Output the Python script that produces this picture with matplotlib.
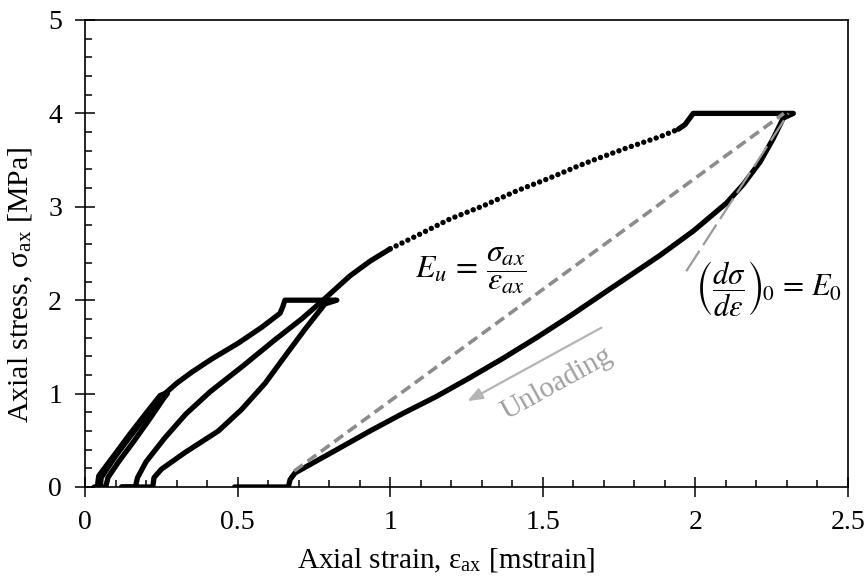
import matplotlib
matplotlib.use("Agg")
import matplotlib.pyplot as plt
from matplotlib.ticker import MultipleLocator

# cycle 1: loading to 1 MPa, unloading, recovery at zero stress
cycle1_strain = [0.030, 0.040, 0.045, 0.100, 0.150, 0.200, 0.246, 0.262, 0.270,
                 0.258, 0.210, 0.160, 0.110, 0.075, 0.068, 0.050]
cycle1_stress = [0.00, 0.00, 0.12, 0.36, 0.58, 0.79, 0.98, 1.00, 1.00,
                 0.95, 0.72, 0.49, 0.27, 0.10, 0.00, 0.00]

# cycle 2: loading to 2 MPa, hold, unloading, recovery
cycle2_strain = [0.050, 0.053, 0.100, 0.150, 0.200, 0.250, 0.262, 0.300, 0.350, 0.415,
                 0.502, 0.579, 0.639, 0.648, 0.655, 0.740, 0.825,
                 0.786, 0.721, 0.655, 0.590, 0.513, 0.437, 0.328, 0.250, 0.226, 0.222, 0.120]
cycle2_stress = [0.00, 0.10, 0.33, 0.55, 0.76, 0.97, 1.00, 1.11, 1.23, 1.37,
                 1.54, 1.71, 1.86, 1.93, 2.00, 2.00, 2.00,
                 1.96, 1.69, 1.40, 1.11, 0.83, 0.60, 0.37, 0.19, 0.10, 0.00, 0.00]

# cycle 3: reloading (dense part)
cycle3_strain = [0.120, 0.165, 0.172, 0.200, 0.260, 0.330, 0.410, 0.519, 0.620, 0.710, 0.780,
                 0.868, 0.935, 1.000]
cycle3_stress = [0.00, 0.00, 0.10, 0.27, 0.52, 0.78, 1.02, 1.30, 1.57, 1.80, 2.00,
                 2.26, 2.42, 2.55]

# cycle 3: reloading (sparse points)
sparse_strain = [1.000, 1.087, 1.196, 1.305, 1.414, 1.524, 1.611, 1.666, 1.775, 1.884, 1.944]
sparse_stress = [2.55, 2.69, 2.87, 3.01, 3.17, 3.31, 3.43, 3.50, 3.63, 3.75, 3.83]

# hold at 4 MPa, final unloading, recovery
final_strain = [1.944, 1.966, 1.993, 2.100, 2.200, 2.321,
                2.288, 2.255, 2.212, 2.157, 2.102, 1.993, 1.884, 1.775, 1.720, 1.589,
                1.480, 1.371, 1.261, 1.152, 1.043, 0.934, 0.825, 0.737, 0.688, 0.672,
                0.666, 0.490]
final_stress = [3.83, 3.88, 4.00, 4.00, 4.00, 4.00,
                3.95, 3.73, 3.48, 3.24, 3.04, 2.74, 2.48, 2.24, 2.12, 1.83,
                1.60, 1.38, 1.17, 0.97, 0.79, 0.60, 0.40, 0.24, 0.15, 0.08,
                0.00, 0.00]

# secant (unloading) modulus and initial tangent
secant_strain = [0.685, 2.290]
secant_stress = [0.17, 4.00]
tangent_strain = [1.970, 2.305]
tangent_stress = [2.31, 4.00]

plt.rcParams["font.family"] = ["Liberation Serif", "DejaVu Serif"]
plt.rcParams["mathtext.fontset"] = "stix"

fig = plt.figure(figsize=(8.65, 5.81), dpi=100)
ax = fig.add_axes([0.0983, 0.1618, 0.8820, 0.8038])

solid = dict(color="black", linewidth=3.8, solid_capstyle="round", solid_joinstyle="round")
ax.plot(cycle1_strain, cycle1_stress, **solid)
ax.plot(cycle2_strain, cycle2_stress, **solid)
ax.plot(cycle3_strain, cycle3_stress, **solid)
ax.plot(final_strain, final_stress, **solid)
ax.plot(sparse_strain, sparse_stress, color="black", linewidth=3.9,
        linestyle=(0, (0.01, 1.2)), dash_capstyle="round")

ax.plot(secant_strain, secant_stress, color="#8c8c8c", linewidth=2.6,
        linestyle=(0, (3, 1.6)))
ax.plot(tangent_strain, tangent_stress, color="#9a9a9a", linewidth=1.6,
        linestyle=(0, (11, 3)))

ax.annotate("", xy=(1.245, 0.905), xytext=(1.70, 1.72),
            arrowprops=dict(arrowstyle="-|>,head_length=0.9,head_width=0.35",
                            color="#b4b4b4", lw=1.6))
ax.text(1.545, 1.11, "Unloading", rotation=29, color="#a0a0a0", fontsize=21,
        ha="center", va="center")

ax.text(1.08, 2.31, r"$E_u\,=\,\dfrac{\sigma_{ax}}{\varepsilon_{ax}}$", fontsize=23,
        ha="left", va="center")
ax.text(2.0, 2.12, r"$\left(\dfrac{d\sigma}{d\varepsilon}\right)_{\!0}\,=\,E_0$", fontsize=22,
        ha="left", va="center")

ax.set_xlim(0, 2.5)
ax.set_ylim(0, 5)
ax.xaxis.set_major_locator(MultipleLocator(0.5))
ax.xaxis.set_minor_locator(MultipleLocator(0.1))
ax.yaxis.set_major_locator(MultipleLocator(1))
ax.yaxis.set_minor_locator(MultipleLocator(0.2))
ax.set_xticks([0, 0.5, 1, 1.5, 2, 2.5])
ax.set_xticklabels(["0", "0.5", "1", "1.5", "2", "2.5"])
ax.tick_params(which="major", direction="inout", length=15, width=1.1,
               labelsize=20, pad=9, top=False, right=False)
ax.tick_params(which="minor", direction="in", length=5, width=1.1, top=False, right=False)
for s in ax.spines.values():
    s.set_linewidth(1.2)

ax.set_xlabel(r"Axial strain, ε$_\mathregular{ax}$ [mstrain]", fontsize=21)
ax.set_ylabel(r"Axial stress, σ$_\mathregular{ax}$ [MPa]", fontsize=21.5)
ax.xaxis.set_label_coords(0.474, -0.128)
ax.yaxis.set_label_coords(-0.066, 0.432)

plt.savefig("out.png", dpi=100)
print("Saved: out.png")
